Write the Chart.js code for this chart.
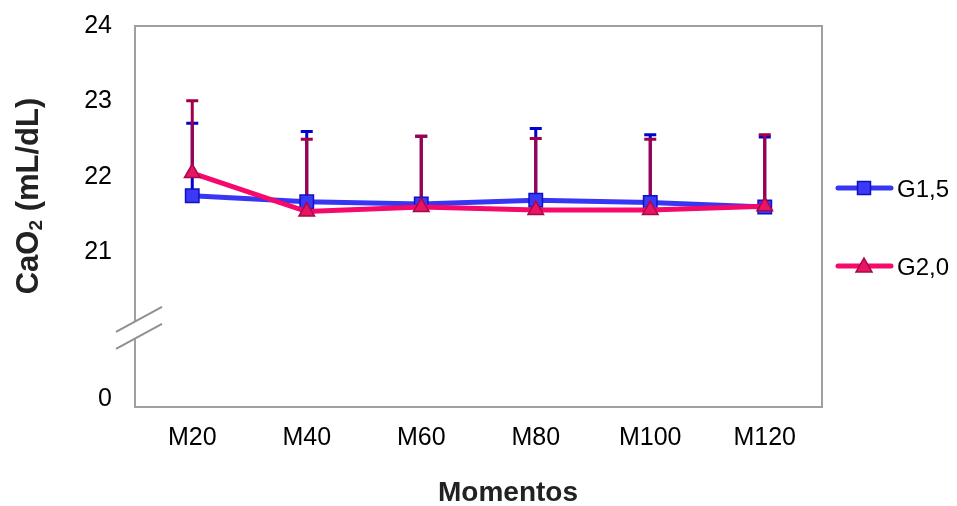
<!DOCTYPE html>
<html>
<head>
<meta charset="utf-8">
<script src="https://cdn.jsdelivr.net/npm/chart.js@4/dist/chart.umd.min.js"></script>
<style>
  html,body{margin:0;padding:0;background:#fff;}
  #wrap{width:957px;height:506px;}
</style>
</head>
<body>
<div id="wrap"><canvas id="c" width="957" height="506"></canvas></div>
<script>
// data
const moments = ['M20','M40','M60','M80','M100','M120'];
const g15 = [21.75, 21.67, 21.64, 21.69, 21.66, 21.60];
const g15Top = [22.71, 22.60, 22.54, 22.64, 22.56, 22.53];
const g20 = [22.05, 21.54, 21.60, 21.56, 21.56, 21.61];
const g20Top = [23.01, 22.50, 22.54, 22.51, 22.50, 22.56];
const yTickValues = [19.05, 21, 22, 23, 24];
const yTickLabels = ['0', '21', '22', '23', '24'];
const yBreakAt = 20;

const FONT = '"Liberation Sans", Arial, sans-serif';
const AXIS = '#a0a0a0';

const errTops = [g15Top, g20Top];
const errColors = ['#0000d0', '#a0004a'];

// whisker (upper only) drawn under the lines
const errorBars = {
  id: 'errorBars',
  beforeDatasetsDraw(chart){
    const {ctx, scales:{x, y}} = chart;
    ctx.save();
    ctx.lineWidth = 3;
    errTops.forEach((tops, di) => {
      const vals = chart.data.datasets[di].data;
      ctx.strokeStyle = errColors[di];
      tops.forEach((t, i) => {
        const px = x.getPixelForValue(i);
        const y0 = y.getPixelForValue(vals[i]);
        const y1 = y.getPixelForValue(t);
        ctx.beginPath();
        ctx.moveTo(px, y0); ctx.lineTo(px, y1);
        ctx.moveTo(px - 6, y1); ctx.lineTo(px + 6, y1);
        ctx.stroke();
      });
    });
    ctx.restore();
  }
};

// frame, axis break, titles, legend
const extras = {
  id: 'extras',
  afterDraw(chart){
    const {ctx, chartArea:a, scales:{y}} = chart;
    ctx.save();
    ctx.strokeStyle = AXIS; ctx.lineWidth = 2;
    ctx.strokeRect(a.left, a.top, a.right - a.left, a.bottom - a.top);

    // break marks on the y axis
    const yc = y.getPixelForValue(yBreakAt);
    const xc = a.left + 4;
    const dx = 23, dy = 12.5, gap = 8.5;
    ctx.fillStyle = '#fff';
    ctx.beginPath();
    ctx.moveTo(xc - dx, yc - gap + dy); ctx.lineTo(xc + dx, yc - gap - dy);
    ctx.lineTo(xc + dx, yc + gap - dy); ctx.lineTo(xc - dx, yc + gap + dy);
    ctx.closePath(); ctx.fill();
    ctx.strokeStyle = '#909090'; ctx.lineWidth = 2;
    ctx.beginPath();
    ctx.moveTo(xc - dx, yc - gap + dy); ctx.lineTo(xc + dx, yc - gap - dy);
    ctx.moveTo(xc - dx, yc + gap + dy); ctx.lineTo(xc + dx, yc + gap - dy);
    ctx.stroke();

    // axis titles
    ctx.fillStyle = '#222';
    ctx.textAlign = 'center'; ctx.textBaseline = 'middle';
    ctx.font = 'bold 28px ' + FONT;
    ctx.fillText('Momentos', 508, 493);
    ctx.save();
    ctx.translate(29, 196); ctx.rotate(-Math.PI/2);
    const p1 = 'CaO', p2 = '2', p3 = ' (mL/dL)';
    ctx.font = 'bold 31px ' + FONT; const w1 = ctx.measureText(p1).width, w3 = ctx.measureText(p3).width;
    ctx.font = 'bold 19px ' + FONT; const w2 = ctx.measureText(p2).width;
    let sx = -(w1 + w2 + w3)/2;
    ctx.textAlign = 'left';
    ctx.font = 'bold 31px ' + FONT; ctx.fillText(p1, sx, 0); sx += w1;
    ctx.font = 'bold 19px ' + FONT; ctx.fillText(p2, sx, 8); sx += w2;
    ctx.font = 'bold 31px ' + FONT; ctx.fillText(p3, sx, 0);
    ctx.restore();

    // legend
    const legY = [188, 266];
    chart.data.datasets.forEach((ds, i) => {
      const ly = legY[i];
      ctx.strokeStyle = ds.borderColor; ctx.lineWidth = 5; ctx.lineCap = 'round';
      ctx.beginPath(); ctx.moveTo(838, ly); ctx.lineTo(891, ly); ctx.stroke();
      ctx.lineCap = 'butt';
      ctx.fillStyle = ds.pointBackgroundColor; ctx.strokeStyle = ds.pointBorderColor; ctx.lineWidth = 1.5;
      ctx.beginPath();
      if (ds.pointStyle === 'rect') ctx.rect(864 - 6.5, ly - 6.5, 13, 13);
      else { ctx.moveTo(864, ly - 8); ctx.lineTo(872, ly + 6); ctx.lineTo(856, ly + 6); ctx.closePath(); }
      ctx.fill(); ctx.stroke();
      ctx.fillStyle = '#000'; ctx.font = '24px ' + FONT; ctx.textAlign = 'left';
      ctx.fillText(ds.label, 897, ly + 2);
    });
    ctx.restore();
  }
};

new Chart(document.getElementById('c'), {
  type: 'line',
  data: {
    labels: moments,
    datasets: [
      { label: 'G1,5', data: g15, order: 2, borderColor: '#3636f5', borderWidth: 5,
        pointStyle: 'rect', pointRadius: 9.5, pointBackgroundColor: '#3a3af5', pointBorderColor: '#1010c8', pointBorderWidth: 1.5, tension: 0 },
      { label: 'G2,0', data: g20, order: 1, borderColor: '#f5096a', borderWidth: 5,
        pointStyle: 'triangle', pointRadius: 9, pointBackgroundColor: '#e81563', pointBorderColor: '#a8084a', pointBorderWidth: 1.5, tension: 0 }
    ]
  },
  options: {
    responsive: false,
    animation: false,
    layout: { padding: { top: 26, right: 135, left: 0, bottom: 0 } },
    plugins: { legend: { display: false }, tooltip: { enabled: false } },
    scales: {
      x: {
        offset: true,
        grid: { display: false, drawTicks: false },
        border: { color: AXIS, width: 2 },
        ticks: { color: '#000', font: { family: FONT, size: 25 }, padding: 16, maxRotation: 0 },
        afterFit(s){ s.height = 99; s.paddingLeft = 0; s.paddingRight = 0; }
      },
      y: {
        min: 18.95, max: 24,
        grid: { display: false, drawTicks: false },
        border: { color: AXIS, width: 2 },
        afterBuildTicks(s){ s.ticks = yTickValues.map(v => ({ value: v })); },
        ticks: { color: '#000', font: { family: FONT, size: 25 }, padding: 23,
          callback: (v, i) => yTickLabels[i] },
        afterFit(s){ s.width = 135; s.paddingTop = 0; s.paddingBottom = 0; }
      }
    }
  },
  plugins: [errorBars, extras]
});
</script>
</body>
</html>
